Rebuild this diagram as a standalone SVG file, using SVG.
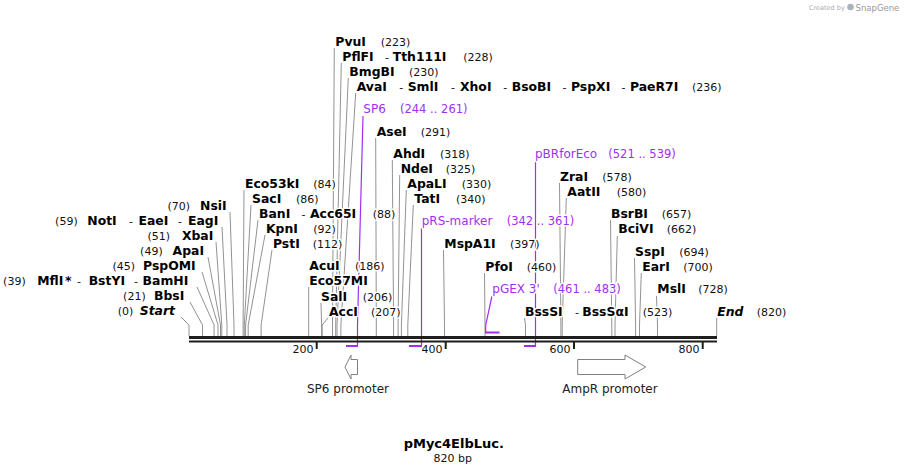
<svg xmlns="http://www.w3.org/2000/svg" width="907" height="475" viewBox="0 0 907 475">
<style>
text{paint-order:stroke;stroke:#fff;stroke-width:3px;stroke-linejoin:round}
.n{font-family:"DejaVu Sans",sans-serif;font-weight:bold;font-size:12.4px;fill:#000}
.ni{font-family:"DejaVu Sans",sans-serif;font-weight:bold;font-style:italic;font-size:12.4px;fill:#000}
.p{font-family:"DejaVu Sans",sans-serif;font-size:11px;fill:#111}
.d{font-family:"DejaVu Sans",sans-serif;font-size:11px;fill:#111}
.f{font-family:"DejaVu Sans",sans-serif;font-size:12px;fill:#a030f0}
.fp{font-family:"DejaVu Sans",sans-serif;font-size:11.5px;fill:#a030f0}
.e{text-anchor:end}
.c{fill:none;stroke:#939393;stroke-width:1}
.pc{fill:none;stroke:#a030f0;stroke-width:1.2}
.pb{stroke:#a030f0;stroke-width:2}
.t{font-family:"DejaVu Sans",sans-serif;font-size:11px;fill:#111;text-anchor:end}
.g{font-family:"DejaVu Sans",sans-serif;font-size:12px;fill:#222;text-anchor:middle}
.arr{fill:#fff;stroke:#808080;stroke-width:1}
</style>
<rect x="0" y="0" width="907" height="475" fill="#fff"/>

<g id="logo">
<text x="809" y="10" style="font-family:'DejaVu Sans',sans-serif;font-size:6.5px;fill:#aaa;stroke:none">Created by</text>
<circle cx="850.5" cy="7" r="3.3" fill="#a9b4bd"/>
<text x="855.5" y="10.5" style="font-family:'DejaVu Sans',sans-serif;font-size:8.5px;fill:#999;stroke:none">SnapGene</text>
</g>

<g id="connectors">
<polyline class="c" points="181,317 189,325 189,336"/>
<polyline class="c" points="190,302 202.5,325 202.5,336"/>
<polyline class="c" points="197,287 214.1,325 214.1,336"/>
<polyline class="c" points="202,272 218,325 218,336"/>
<polyline class="c" points="208,257 220.5,325 220.5,336"/>
<polyline class="c" points="216,242 221.8,325 221.8,336"/>
<polyline class="c" points="222,227 227,325 227,336"/>
<polyline class="c" points="230,212 234,325 234,336"/>
<polyline class="c" points="244,190 243.1,325 243.1,336"/>
<polyline class="c" points="251,205 244.3,325 244.3,336"/>
<polyline class="c" points="258,220 245.6,325 245.6,336"/>
<polyline class="c" points="265,235 248.2,325 248.2,336"/>
<polyline class="c" points="272,250 261.1,325 261.1,336"/>
<polyline class="c" points="308.7,287 308.7,336"/>
<polyline class="c" points="321,303 321.6,325 321.6,336"/>
<polyline class="c" points="328,318 322.2,325 322.2,336"/>
<polyline class="c" points="334.3,48 332.5,325 332.5,336"/>
<polyline class="c" points="341.3,63 335.7,325 335.7,336"/>
<polyline class="c" points="348.3,78 337,325 337,336"/>
<polyline class="c" points="355.7,93 340.9,325 340.9,336"/>
<polyline class="c" points="375.7,138 376.3,325 376.3,336"/>
<polyline class="c" points="392.3,160 393.6,325 393.6,336"/>
<polyline class="c" points="399.7,175 398.1,325 398.1,336"/>
<polyline class="c" points="406.3,190 401.4,325 401.4,336"/>
<polyline class="c" points="413.3,205 407.8,325 407.8,336"/>
<polyline class="c" points="443.5,250 444.5,325 444.5,336"/>
<polyline class="c" points="484.5,273 485,325 485,336"/>
<polyline class="c" points="524.5,318 525.5,325 525.5,336"/>
<polyline class="c" points="559.5,183 560.9,325 560.9,336"/>
<polyline class="c" points="566.3,198 562.2,325 562.2,336"/>
<polyline class="c" points="610.5,220 611.8,325 611.8,336"/>
<polyline class="c" points="617.3,236 615,325 615,336"/>
<polyline class="c" points="634.5,258 635.6,325 635.6,336"/>
<polyline class="c" points="641.3,273 639.5,325 639.5,336"/>
<polyline class="c" points="656.5,296 657.5,325 657.5,336"/>
<polyline class="c" points="716.7,318 716.7,336"/>
<polyline class="pc" points="363,116 357.5,325 357.5,346"/>
<line class="pb" x1="346" y1="346" x2="358" y2="346"/>
<polyline class="pc" points="421.5,228 421.5,346"/>
<line class="pb" x1="409" y1="346" x2="422" y2="346"/>
<polyline class="pc" points="535.5,161 535.5,346"/>
<line class="pb" x1="524" y1="346" x2="536" y2="346"/>
<polyline class="pc" points="492,296 485.7,325 485.7,333"/>
<line class="pb" x1="485" y1="332.5" x2="499.5" y2="332.5"/>
</g>

<g id="backbone">
<rect x="189" y="336" width="528" height="3" fill="#1e1e1e"/>
<rect x="189" y="340.5" width="528" height="2" fill="#1e1e1e"/>
<rect x="315.7" y="342" width="2" height="7" fill="#1e1e1e"/>
<rect x="444.7" y="342" width="2" height="7" fill="#1e1e1e"/>
<rect x="573" y="342" width="2" height="7" fill="#1e1e1e"/>
<rect x="701.7" y="342" width="2" height="7" fill="#1e1e1e"/>
<text class="t" x="313.5" y="352.5">200</text>
<text class="t" x="442.5" y="352.5">400</text>
<text class="t" x="570.5" y="352.5">600</text>
<text class="t" x="699.5" y="352.5">800</text>
</g>

<g id="Start"><text class="p e" x="133.3" y="315">(0)</text><text class="ni e" x="175" y="315">Start</text></g>
<g id="BbsI"><text class="p e" x="145.7" y="300">(21)</text><text class="n e" x="184.3" y="300">BbsI</text></g>
<g id="BamHI"><text class="p e" x="25.7" y="285">(39)</text><text class="n e" x="63.3" y="285">MflI</text><text class="n" x="65" y="285">*</text><text class="d" x="77" y="285">-</text><text class="n e" x="125" y="285">BstYI</text><text class="d" x="134" y="285">-</text><text class="n e" x="188.3" y="285">BamHI</text></g>
<g id="PspOMI"><text class="p e" x="135" y="270">(45)</text><text class="n e" x="195.7" y="270">PspOMI</text></g>
<g id="ApaI"><text class="p e" x="162.7" y="255">(49)</text><text class="n e" x="204" y="255">ApaI</text></g>
<g id="XbaI"><text class="p e" x="170" y="240">(51)</text><text class="n e" x="213.3" y="240">XbaI</text></g>
<g id="NotI"><text class="p e" x="77.7" y="225">(59)</text><text class="n e" x="116.7" y="225">NotI</text><text class="d" x="129" y="225">-</text><text class="n e" x="168.3" y="225">EaeI</text><text class="d" x="178" y="225">-</text><text class="n e" x="218.3" y="225">EagI</text></g>
<g id="NsiI"><text class="p e" x="190" y="210">(70)</text><text class="n e" x="226.7" y="210">NsiI</text></g>

<g id="Eco53kI"><text y="187.7"><tspan class="n" x="245">Eco53kI</tspan><tspan class="p" x="313.3">(84)</tspan></text></g>
<g id="SacI"><text y="202.7"><tspan class="n" x="252">SacI</tspan><tspan class="p" x="296">(86)</tspan></text></g>
<g id="Acc65I"><text y="217.7"><tspan class="n" x="259">BanI</tspan><tspan class="d" x="301.5">-</tspan><tspan class="n" x="310">Acc65I</tspan><tspan class="p" x="372.7">(88)</tspan></text></g>
<g id="KpnI"><text y="232.7"><tspan class="n" x="266">KpnI</tspan><tspan class="p" x="313.3">(92)</tspan></text></g>
<g id="PstI"><text y="247.7"><tspan class="n" x="273">PstI</tspan><tspan class="p" x="312.7">(112)</tspan></text></g>
<g id="AcuI"><text y="270"><tspan class="n" x="309.3">AcuI</tspan><tspan class="p" x="355">(186)</tspan></text></g>
<g id="Eco57MI"><text y="285"><tspan class="n" x="309.3">Eco57MI</tspan></text></g>
<g id="SalI"><text y="301"><tspan class="n" x="321">SalI</tspan><tspan class="p" x="362.7">(206)</tspan></text></g>
<g id="AccI"><text y="315.5"><tspan class="n" x="329">AccI</tspan><tspan class="p" x="371">(207)</tspan></text></g>

<g id="PvuI"><text y="46"><tspan class="n" x="335.3">PvuI</tspan><tspan class="p" x="380.7">(223)</tspan></text></g>
<g id="Tth111I"><text y="61"><tspan class="n" x="342.3">PflFI</tspan><tspan class="d" x="385">-</tspan><tspan class="n" x="392.7">Tth111I</tspan><tspan class="p" x="463.3">(228)</tspan></text></g>
<g id="BmgBI"><text y="76"><tspan class="n" x="349.3">BmgBI</tspan><tspan class="p" x="409">(230)</tspan></text></g>
<g id="XhoI"><text y="91"><tspan class="n" x="356.7">AvaI</tspan><tspan class="d" x="399.3">-</tspan><tspan class="n" x="407.7">SmlI</tspan><tspan class="d" x="451">-</tspan><tspan class="n" x="460">XhoI</tspan><tspan class="d" x="503.3">-</tspan><tspan class="n" x="511.7">BsoBI</tspan><tspan class="d" x="562.5">-</tspan><tspan class="n" x="571">PspXI</tspan><tspan class="d" x="621.5">-</tspan><tspan class="n" x="630">PaeR7I</tspan><tspan class="p" x="692">(236)</tspan></text></g>
<g id="AseI"><text y="136"><tspan class="n" x="376.7">AseI</tspan><tspan class="p" x="420.7">(291)</tspan></text></g>
<g id="AhdI"><text y="157.7"><tspan class="n" x="393.3">AhdI</tspan><tspan class="p" x="440">(318)</tspan></text></g>
<g id="NdeI"><text y="173.3"><tspan class="n" x="400.7">NdeI</tspan><tspan class="p" x="445.7">(325)</tspan></text></g>
<g id="ApaLI"><text y="187.7"><tspan class="n" x="407.3">ApaLI</tspan><tspan class="p" x="461.7">(330)</tspan></text></g>
<g id="TatI"><text y="202.7"><tspan class="n" x="414.3">TatI</tspan><tspan class="p" x="456">(340)</tspan></text></g>
<g id="MspA1I"><text y="247.7"><tspan class="n" x="444.3">MspA1I</tspan><tspan class="p" x="510">(397)</tspan></text></g>
<g id="PfoI"><text y="270.7"><tspan class="n" x="485.3">PfoI</tspan><tspan class="p" x="526.7">(460)</tspan></text></g>
<g id="BssSI"><text y="316"><tspan class="n" x="525">BssSI</tspan><tspan class="d" x="575">-</tspan><tspan class="n" x="582.3">BssSαI</tspan><tspan class="p" x="642.7">(523)</tspan></text></g>
<g id="ZraI"><text y="180.7"><tspan class="n" x="560">ZraI</tspan><tspan class="p" x="602.3">(578)</tspan></text></g>
<g id="AatII"><text y="195.7"><tspan class="n" x="567.3">AatII</tspan><tspan class="p" x="616.7">(580)</tspan></text></g>
<g id="BsrBI"><text y="217.7"><tspan class="n" x="611">BsrBI</tspan><tspan class="p" x="661.7">(657)</tspan></text></g>
<g id="BciVI"><text y="233.3"><tspan class="n" x="618.3">BciVI</tspan><tspan class="p" x="666.7">(662)</tspan></text></g>
<g id="SspI"><text y="256"><tspan class="n" x="635">SspI</tspan><tspan class="p" x="679.3">(694)</tspan></text></g>
<g id="EarI"><text y="270.7"><tspan class="n" x="642.3">EarI</tspan><tspan class="p" x="683.3">(700)</tspan></text></g>
<g id="MslI"><text y="293.3"><tspan class="n" x="657.3">MslI</tspan><tspan class="p" x="698.3">(728)</tspan></text></g>
<g id="End"><text y="316"><tspan class="ni" x="717.3">End</tspan><tspan class="p" x="756.7">(820)</tspan></text></g>

<g id="SP6"><text y="113.3"><tspan class="f" x="363.3">SP6</tspan><tspan class="fp" x="400">(244 .. 261)</tspan></text></g>
<g id="pRS-marker"><text y="225"><tspan class="f" x="421.7">pRS-marker</tspan><tspan class="fp" x="506.7">(342 .. 361)</tspan></text></g>
<g id="pBRforEco"><text y="158.3"><tspan class="f" x="535">pBRforEco</tspan><tspan class="fp" x="608.3">(521 .. 539)</tspan></text></g>
<g id="pGEX3"><text y="293.3"><tspan class="f" x="492.3">pGEX 3'</tspan><tspan class="fp" x="553.3">(461 .. 483)</tspan></text></g>

<g id="SP6-promoter">
<polygon class="arr" points="345,367 351,355 351,359.5 357.5,359.5 357.5,374.5 351,374.5 351,379"/>
<text class="g" x="348" y="392.7">SP6 promoter</text>
</g>
<g id="AmpR-promoter">
<polygon class="arr" points="577.7,359.5 625,359.5 625,355 645.7,367 625,379 625,374.5 577.7,374.5"/>
<text class="g" x="610" y="392.7">AmpR promoter</text>
</g>

<g id="title">
<text x="453.8" y="448.3" style="font-family:'DejaVu Sans',sans-serif;font-weight:bold;font-size:13px;fill:#000;text-anchor:middle">pMyc4ElbLuc.</text>
<text x="452.8" y="461.7" style="font-family:'DejaVu Sans',sans-serif;font-size:11px;fill:#111;text-anchor:middle">820 bp</text>
</g>
</svg>
